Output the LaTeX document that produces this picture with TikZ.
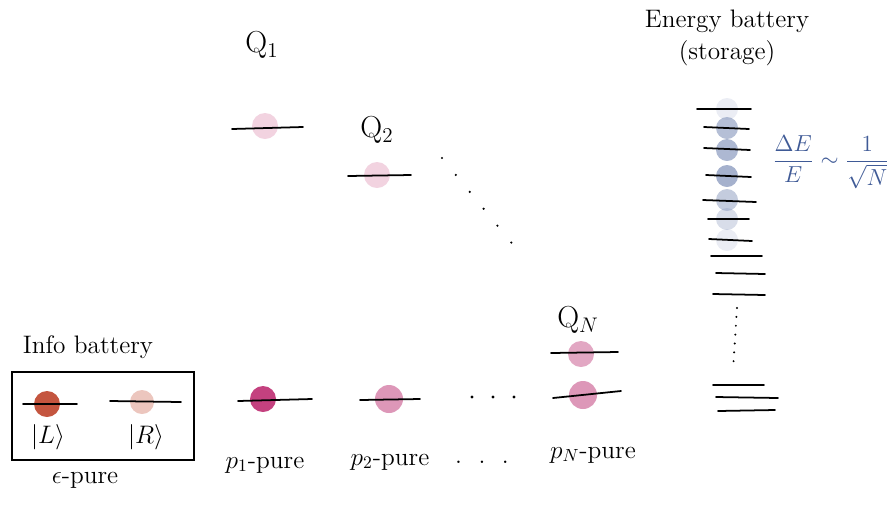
\documentclass[tikz,border=0pt]{standalone}
\usepackage{amsmath}
\usepackage{tikz}
\usetikzlibrary{positioning}
\definecolor{qlight}{HTML}{F2D3E0}
\definecolor{qmid}{HTML}{DD97B8}
\definecolor{qdark}{HTML}{C4417F}
\definecolor{infoL}{HTML}{C4553F}
\definecolor{infoR}{HTML}{ECC6BE}
\definecolor{eblue}{HTML}{3F5A96}
\definecolor{edot}{HTML}{8E9DC0}

\begin{document}
\begin{tikzpicture}[x=0.02cm, y=-0.02cm, font=\Large, >=stealth,
    level/.style={line width=1pt, line cap=round},
    hand/.style={font=\Large, inner sep=1pt}]
    \useasboundingbox (0,0) rectangle (891,508);
    % ---------------- qubits Q1, Q2 (excited, light)
    \fill[qlight] (265,126) circle (13);
    \draw[level] (232,129) -- (303,127);
    \node[hand, font=\LARGE] (q1) at (262,45) {Q$_1$};
    \fill[qlight] (377,175) circle (13);
    \draw[level] (348,176) -- (411,175);
    \node[hand, font=\LARGE] (q2) at (377,130) {Q$_2$};
    \foreach \t in {0,0.18,...,1.0} \fill ({442+77*\t},{158+94*\t}) circle (1.2);
    % ---------------- qubit QN (two levels)
    \node[hand, font=\LARGE] (qn) at (578,320) {Q$_N$};
    \fill[qmid!85] (581,354) circle (13);
    \draw[level] (551,353) -- (618,352);
    \fill[qmid] (583,395) circle (14);
    \draw[level] (553,398) -- (621,391);
    % ---------------- ground row, p_i-pure
    \fill[qdark] (263,399) circle (13);
    \draw[level] (238,401) -- (312,399);
    \fill[qmid] (389,399) circle (14);
    \draw[level] (360,400) -- (420,399);
    \foreach \x in {472,493,514} \fill (\x,397) circle (1.6);
    \node[hand] (p1) at (265,465) {$p_1$-pure};
    \node[hand] (p2) at (390,462) {$p_2$-pure};
    \node[hand] (pdots) at (482,462) {.\ \ .\ \ .};
    \node[hand] (pn) at (593,455) {$p_N$-pure};
    % ---------------- info battery
    \node[hand] (info) at (88,347) {Info battery};
    \draw[line width=1.1pt] (12,372) rectangle (194,460);
    \fill[infoL] (47,404) circle (13);
    \draw[level] (23,404) -- (77,404);
    \fill[infoR] (142,402) circle (12);
    \draw[level] (110,401) -- (181,402);
    \node[hand] (ketL) at (48,437) {$|L\rangle$};
    \node[hand] (ketR) at (146,437) {$|R\rangle$};
    \node[hand] (eps) at (85,480) {$\epsilon$-pure};
    % ---------------- energy battery
    \node[hand, align=center] (ebat) at (727,38) {Energy battery\\(storage)};
    \foreach \y/\o in {109/18,128/65,150/72,176/80,200/52,219/35,240/18} \fill[edot, opacity=\o/100] (727,\y) circle (11);
    \foreach \a/\b/\c/\d in {697/109/751/109, 704/127/749/129, 704/148/750/150, 706/175/751/177,
        703/200/756/202, 708/219/749/219, 709/239/752/241, 711/256/762/256, 716/273/765/274,
        713/294/765/295, 713/385/764/385, 716/397/778/398, 718/411/775/410}
      \draw[level] (\a,\b) -- (\c,\d);
    \foreach \t in {0,0.143,...,1.0} \fill ({737-4*\t},{308+62*\t}) circle (1.1);
    \node[text=eblue, font=\large, inner sep=0pt] (ratio) at (831,162) {\scalebox{1.1}{$\dfrac{\Delta E}{E} \sim \dfrac{1}{\sqrt{N}}$}};
\end{tikzpicture}
\end{document}
